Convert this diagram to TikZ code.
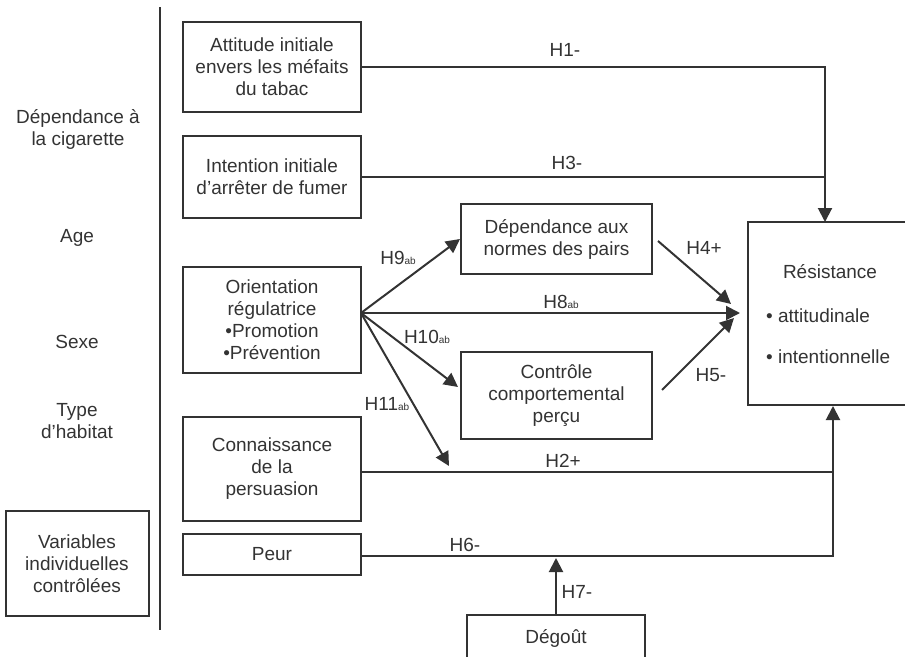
\documentclass[tikz,border=0pt]{standalone}
\usepackage{fontspec}
\setmainfont{Liberation Sans}
\usetikzlibrary{arrows.meta}
\definecolor{ink}{HTML}{333333}
\newcommand\subab[1]{{\fontsize{10}{10}\selectfont #1}}
\begin{document}
\begin{tikzpicture}[x=1pt,y=-1pt,
  every node/.style={text=ink,font=\fontsize{19}{22}\selectfont},
  boxnode/.style={draw=ink,line width=2pt,rectangle,inner sep=0pt,align=center},
  plain/.style={align=center,inner sep=0pt},
  lab/.style={inner sep=0pt},
  conn/.style={draw=ink,line width=2pt},
  arr/.style={conn,-{Triangle[length=14pt,width=14pt]}}]
\useasboundingbox (0,0) rectangle (905,656);
% vertical separator
\coordinate (vtop) at (160,7);
\coordinate (vbot) at (160,630);
\draw[conn] (vtop) -- (vbot);
% left labels
\node[plain] (dc) at (78,129) {Dépendance à\\la cigarette};
\node[plain] (age) at (77,238) {Age};
\node[plain] (sexe) at (77,342) {Sexe};
\node[plain] (type) at (77,421) {Type\\d’habitat};
\node[boxnode,minimum width=143pt,minimum height=105pt] (var) at (77,563.5) {Variables\\individuelles\\contrôlées};
% boxes
\node[boxnode,minimum width=178pt,minimum height=90pt] (att) at (272,67) {Attitude initiale\\envers les méfaits\\du tabac};
\node[boxnode,minimum width=178pt,minimum height=82pt] (int) at (272,177) {Intention initiale\\d’arrêter de fumer};
\node[boxnode,minimum width=178pt,minimum height=106pt] (ori) at (272,320) {Orientation\\régulatrice\\\textbullet Promotion\\\textbullet Prévention};
\node[boxnode,minimum width=178pt,minimum height=104pt] (con) at (272,469) {Connaissance\\de la\\persuasion};
\node[boxnode,minimum width=178pt,minimum height=41pt] (peur) at (272,554.5) {Peur};
\node[boxnode,minimum width=191pt,minimum height=70pt] (dep) at (556.5,239) {Dépendance aux\\normes des pairs};
\node[boxnode,minimum width=191pt,minimum height=87pt] (ctrl) at (556.5,395.5) {Contrôle\\comportemental\\perçu};
\node[boxnode,minimum width=178pt,minimum height=46pt] (deg) at (556,638) {Dégoût};
\node[boxnode,minimum width=162pt,minimum height=183pt] (res) at (829,313.5) {};
\node[plain] (resT) at (830,272) {Résistance};
\node[plain,anchor=west] (resA) at (766,316) {\textbullet\ attitudinale};
\node[plain,anchor=west] (resI) at (766,357) {\textbullet\ intentionnelle};
% coordinates
\coordinate (rtop) at (825,222);
\coordinate (rbot) at (833,406);
\coordinate (src) at (361,313);
\coordinate (h8end) at (740,313);
\coordinate (h4s) at (658,241);
\coordinate (h4e) at (731,304);
\coordinate (h5s) at (662,390);
\coordinate (h5e) at (734,318);
\coordinate (h10e) at (458,387);
\coordinate (h11e) at (449,466);
\coordinate (cone) at (361,472);
\coordinate (peure) at (361,556);
\coordinate (h7e) at (556,558);
% connectors
\draw[arr] (att.east) -| (rtop);
\draw[conn] (int.east) -- (int.east -| rtop);
\draw[arr] (peure) -| (rbot);
\draw[conn] (cone) -- (cone -| rbot);
\draw[arr] (deg.north) -- (h7e);
\draw[arr] (src) -- (dep.west);
\draw[arr] (src) -- (h8end);
\draw[arr] (src) -- (h10e);
\draw[arr] (src) -- (h11e);
\draw[arr] (h4s) -- (h4e);
\draw[arr] (h5s) -- (h5e);
% labels
\node[lab] (l1) at (565,50) {H1-};
\node[lab] (l3) at (567,163) {H3-};
\node[lab] (l9) at (398,258) {H9\subab{ab}};
\node[lab] (l8) at (561,302) {H8\subab{ab}};
\node[lab] (l10) at (427,337) {H10\subab{ab}};
\node[lab] (l11) at (387,404) {H11\subab{ab}};
\node[lab] (l4) at (704,248) {H4+};
\node[lab] (l5) at (711,375) {H5-};
\node[lab] (l2) at (563,461) {H2+};
\node[lab] (l6) at (465,545) {H6-};
\node[lab] (l7) at (577,592) {H7-};
\end{tikzpicture}
\end{document}
